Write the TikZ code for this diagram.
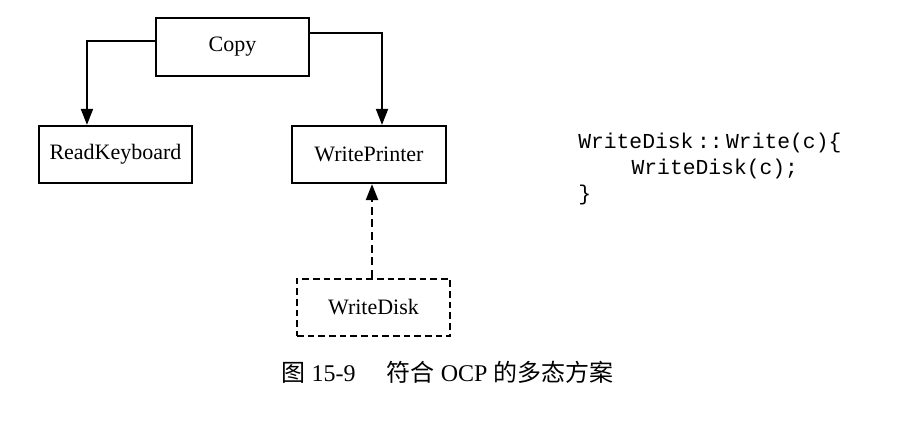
\documentclass[tikz,border=0pt]{standalone}
\usepackage{fontspec}
\setmainfont{Liberation Serif}
\setmonofont{Liberation Mono}
\newfontfamily\cjk{Noto Sans CJK SC}
\usetikzlibrary{arrows.meta}

\begin{document}
\begin{tikzpicture}[x=0.75pt,y=-0.75pt,
	>={Triangle[length=12pt,width=9pt]},
	cls/.style={draw,line width=1.4pt,minimum width=115pt,
		minimum height=43pt,inner sep=0pt,
		font=\fontsize{16.5}{19}\selectfont},
	link/.style={->,line width=1.4pt},
	dashline/.style={dash pattern=on 5pt off 3pt}]
	\useasboundingbox (0,0) rectangle (922,426);

	\node[cls] (copy) at (232.5,47) {Copy};
	\node[cls] (kbd) at (115.5,154.5) {ReadKeyboard};
	\node[cls] (prn) at (369,154.5) {WritePrinter};
	\node[cls,dashline] (disk) at (373.5,307.5) {WriteDisk};

	\draw[link] ([yshift=4.5pt]copy.west) -| ([xshift=-21.4pt]kbd.north);
	\draw[link] ([yshift=10.5pt]copy.east) -| ([xshift=9.75pt]prn.north);
	\draw[link,line width=1.7pt,dash pattern=on 6pt off 3.5pt]
		([xshift=-1.1pt]disk.north) -- ([xshift=-1.1pt]disk.north |- prn.south);

	\node[anchor=north west,inner sep=0pt,align=left,
		font=\ttfamily\fontsize{16}{19.5}\selectfont] (code) at (578,133)
		{WriteDisk\,::\,Write(c)\{\\
		\hspace*{2.5em}WriteDisk(c);\\
		\}};

	\node[font=\fontsize{18}{21}\selectfont] (cap) at (447.5,372)
		{{\cjk 图}~15-9\hspace{1.3em}{\cjk 符合}~OCP~{\cjk 的多态方案}};
\end{tikzpicture}
\end{document}
